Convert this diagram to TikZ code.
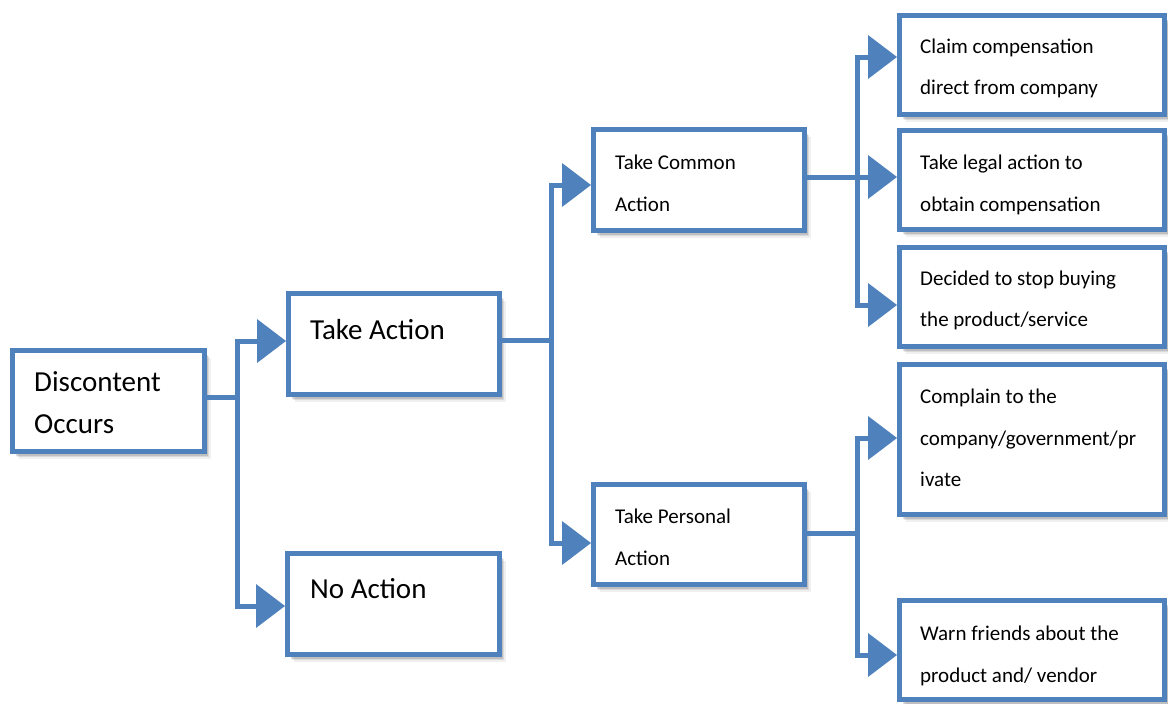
\documentclass[tikz,border=0pt]{standalone}
\usepackage{fontspec}
\setmainfont{Carlito}
\usetikzlibrary{arrows.meta,shadows}
\definecolor{bl}{HTML}{4F81BD}
\tikzset{
  box/.style={draw=bl, line width=5pt, fill=white, inner sep=0pt,
    drop shadow={shadow xshift=6pt, shadow yshift=-7pt, opacity=0.06, fill=black},
    drop shadow={shadow xshift=4.5pt, shadow yshift=-5.5pt, opacity=0.09, fill=black},
    drop shadow={shadow xshift=3pt, shadow yshift=-4pt, opacity=0.12, fill=black}},
  big/.style={anchor=base west, inner sep=0pt, font=\fontsize{29}{35}\selectfont},
  small/.style={anchor=base west, inner sep=0pt, font=\fontsize{21}{25}\selectfont},
  conn/.style={draw=bl, line width=5pt},
  arr/.style={conn, -{Triangle[length=29pt,width=44pt,line width=0pt]}}
}
\begin{document}
\begin{tikzpicture}[x=1pt,y=-1pt]
\useasboundingbox (0,0) rectangle (1168,704);
% boxes
\node[box, minimum width=192pt, minimum height=101pt] (dc) at (108.5,401) {};
\node[box, minimum width=211pt, minimum height=101pt] (ta) at (394,344) {};
\node[box, minimum width=212pt, minimum height=101pt] (na) at (393.5,604) {};
\node[box, minimum width=211pt, minimum height=101pt] (tc) at (699,180) {};
\node[box, minimum width=211pt, minimum height=100pt] (tp) at (699,534.5) {};
\node[box, minimum width=265pt, minimum height=99pt] (r1) at (1032,65) {};
\node[box, minimum width=265pt, minimum height=99pt] (r2) at (1032,180) {};
\node[box, minimum width=265pt, minimum height=99pt] (r3) at (1032,297) {};
\node[box, minimum width=265pt, minimum height=150pt] (r4) at (1032,439.5) {};
\node[box, minimum width=265pt, minimum height=99pt] (r5) at (1032,650) {};
% texts
\node[big] (dc1) at (34,391) {Discontent};
\node[big] (dc2) at (34,433) {Occurs};
\node[big] (ta1) at (310,339) {Take Action};
\node[big] (na1) at (310,598) {No Action};
\node[small] (tc1) at (615,169) {Take Common};
\node[small] (tc2) at (615,211) {Action};
\node[small] (tp1) at (615,523) {Take Personal};
\node[small] (tp2) at (615,565) {Action};
\node[small] (r1a) at (920,53) {Claim compensation};
\node[small] (r1b) at (920,94) {direct from company};
\node[small] (r2a) at (920,169) {Take legal action to};
\node[small] (r2b) at (920,211) {obtain compensation};
\node[small] (r3a) at (920,285) {Decided to stop buying};
\node[small] (r3b) at (920,326) {the product/service};
\node[small] (r4a) at (920,403) {Complain to the};
\node[small] (r4b) at (920,445) {company/government/pr};
\node[small] (r4c) at (920,486) {ivate};
\node[small] (r5a) at (920,640) {Warn friends about the};
\node[small] (r5b) at (920,682) {product and/ vendor};
% junctions
\coordinate (j1) at (237,397);
\coordinate (j2) at (551,340);
\coordinate (j3) at (857,177);
\coordinate (j4) at (857,533);
% connectors
\draw[conn] (dc.east |- j1) -- (j1);
\draw[arr] (j1) |- (ta.west |- 0,341);
\draw[arr] (j1) |- (na.west |- 0,606);
\draw[conn] (ta.east |- j2) -- (j2);
\draw[arr] (j2) |- (tc.west |- 0,185);
\draw[arr] (j2) |- (tp.west |- 0,543);
\draw[conn] (tc.east |- j3) -- (j3);
\draw[arr] (j3) |- (r1.west |- 0,57);
\draw[arr] (j3) -- (r2.west |- j3);
\draw[arr] (j3) |- (r3.west |- 0,305);
\draw[conn] (tp.east |- j4) -- (j4);
\draw[arr] (j4) |- (r4.west |- 0,438);
\draw[arr] (j4) |- (r5.west |- 0,655);
\end{tikzpicture}
\end{document}
